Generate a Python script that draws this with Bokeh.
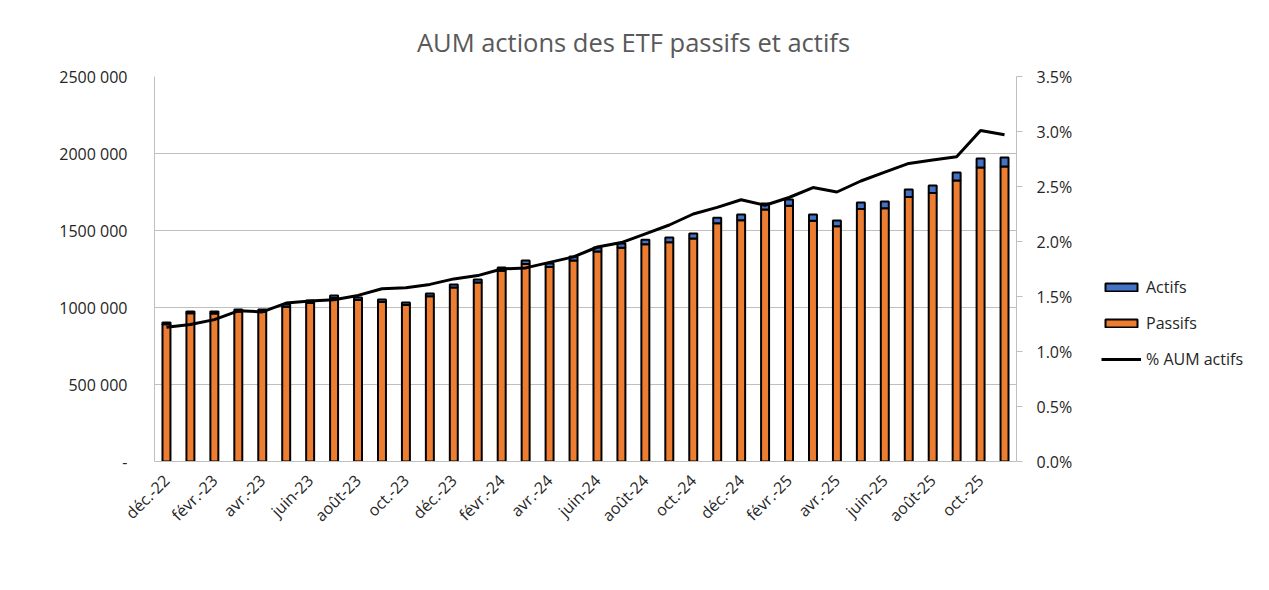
from bokeh.plotting import figure
from bokeh.models import (ColumnDataSource, Range1d, LinearAxis, FixedTicker,
                          PrintfTickFormatter, Legend, LegendItem, Label)
from bokeh.layouts import row, column
from bokeh.embed import file_html
from bokeh.resources import INLINE
from math import pi

months = ["déc.-22", "janv.-23", "févr.-23", "mars-23", "avr.-23", "mai-23", "juin-23", "juil.-23",
          "août-23", "sept.-23", "oct.-23", "nov.-23", "déc.-23", "janv.-24", "févr.-24", "mars-24",
          "avr.-24", "mai-24", "juin-24", "juil.-24", "août-24", "sept.-24", "oct.-24", "nov.-24",
          "déc.-24", "janv.-25", "févr.-25", "mars-25", "avr.-25", "mai-25", "juin-25", "juil.-25",
          "août-25", "sept.-25", "oct.-25", "nov.-25"]

passifs = [892000, 962000, 961000, 974000, 974000, 1004000, 1030000, 1062000,
           1049000, 1036000, 1016000, 1073000, 1130000, 1162000, 1238000, 1282000,
           1263000, 1306000, 1363000, 1388000, 1410000, 1424000, 1448000, 1547000,
           1566000, 1636000, 1660000, 1564000, 1527000, 1639000, 1644000, 1718000,
           1743000, 1825000, 1909000, 1915000]

actifs = [11000, 12100, 12600, 13500, 13400, 14700, 15300, 15800,
          16100, 16500, 16300, 17600, 19100, 20000, 22100, 23000,
          23300, 24800, 27100, 28200, 29800, 31300, 33300, 36600,
          38200, 39000, 40800, 39900, 38300, 42900, 44400, 47900,
          49100, 52000, 59200, 58600]

pct_actifs = [1.22, 1.245, 1.29, 1.37, 1.36, 1.44, 1.46, 1.47,
              1.51, 1.57, 1.58, 1.61, 1.66, 1.69, 1.75, 1.76,
              1.81, 1.86, 1.95, 1.99, 2.07, 2.15, 2.25, 2.31,
              2.38, 2.33, 2.40, 2.49, 2.45, 2.55, 2.63, 2.71,
              2.74, 2.77, 3.01, 2.97]

left_ticks = [0, 500000, 1000000, 1500000, 2000000, 2500000]
left_labels = ["-", "500 000", "1000 000", "1500 000", "2000 000", "2500 000"]
right_ticks = [0, 0.5, 1.0, 1.5, 2.0, 2.5, 3.0, 3.5]
title_text = "AUM actions des ETF passifs et actifs"

FONT = "Open Sans"
TXT = "#262626"
GRID = "#bfbfbf"
ORANGE = "#ED7D31"
BLUE = "#4472C4"

TOTAL_W, TOTAL_H = 1253, 574
TITLE_H = 60
W_MAIN = 1085
H_MAIN = TOTAL_H - TITLE_H

idx = list(range(len(months)))
src = ColumnDataSource(dict(x=idx, month=months, Passifs=passifs, Actifs=actifs, pct=pct_actifs))

# ---- title strip ----
tf = figure(width=TOTAL_W, height=TITLE_H, output_backend="svg", toolbar_location=None,
            min_border=0, x_range=Range1d(0, 1), y_range=Range1d(0, 1))
tf.axis.visible = False
tf.grid.grid_line_color = None
tf.outline_line_color = None
tf.add_layout(Label(x=633, y=19, x_units="screen", y_units="screen", text=title_text,
                    text_align="center", text_baseline="alphabetic",
                    text_font=FONT, text_font_size="25.5px", text_color="#595959"))

# ---- main chart ----
p = figure(width=W_MAIN, height=H_MAIN, x_range=Range1d(-0.5, len(months) - 0.5),
           y_range=Range1d(0, 2500000), output_backend="svg", toolbar_location=None,
           min_border_left=154, min_border_right=W_MAIN - 154 - 862,
           min_border_top=76 - TITLE_H, min_border_bottom=113)
p.extra_y_ranges = {"pct": Range1d(0, 3.5)}
p.outline_line_color = None
p.background_fill_color = "white"
p.border_fill_color = "white"

bars = p.vbar_stack(["Passifs", "Actifs"], x="x", width=0.333, source=src,
                    color=[ORANGE, BLUE], line_color="black", line_width=2)
line = p.line(x="x", y="pct", source=src, y_range_name="pct", line_color="black", line_width=3)

# left axis
ya = p.yaxis[0]
ya.ticker = FixedTicker(ticks=left_ticks)
ya.major_label_overrides = {t: l for t, l in zip(left_ticks, left_labels)}
ya.axis_line_color = GRID
ya.major_tick_line_color = None
ya.minor_tick_line_color = None
ya.major_label_standoff = 21
ya.major_label_text_font = FONT
ya.major_label_text_font_size = "16px"
ya.major_label_text_color = TXT

# right axis
ra = LinearAxis(y_range_name="pct", ticker=FixedTicker(ticks=right_ticks),
                formatter=PrintfTickFormatter(format="%.1f%%"))
ra.axis_line_color = GRID
ra.major_tick_line_color = GRID
ra.major_tick_out = 6
ra.major_tick_in = 0
ra.minor_tick_line_color = None
ra.major_label_standoff = 14
ra.major_label_text_font = FONT
ra.major_label_text_font_size = "16px"
ra.major_label_text_color = TXT
p.add_layout(ra, "right")

# x axis
xa = p.xaxis[0]
xa.ticker = FixedTicker(ticks=idx[::2])
xa.major_label_overrides = {i: months[i] for i in idx[::2]}
xa.major_label_orientation = pi / 4
xa.axis_line_color = GRID
xa.major_tick_line_color = None
xa.minor_tick_line_color = None
xa.major_label_standoff = 10
xa.major_label_text_font = FONT
xa.major_label_text_font_size = "16px"
xa.major_label_text_color = TXT

p.xgrid.grid_line_color = None
p.ygrid.grid_line_color = GRID
p.ygrid.ticker = FixedTicker(ticks=left_ticks)

# ---- legend panel: same data, muted (invisible) and outside its visible range,
#      so only the legend entries show ----
lg = figure(width=TOTAL_W - W_MAIN, height=H_MAIN, output_backend="svg", toolbar_location=None,
            min_border=0, x_range=Range1d(1000, 2000), y_range=Range1d(1e7, 2e7))
lg.axis.visible = False
lg.grid.grid_line_color = None
lg.outline_line_color = None
lb = lg.vbar(x="x", top="Actifs", width=0.333, source=src, color=BLUE, line_color="black",
             line_width=2, muted_alpha=0)
lo = lg.vbar(x="x", top="Passifs", width=0.333, source=src, color=ORANGE, line_color="black",
             line_width=2, muted_alpha=0)
ll = lg.line(x="x", y="pct", source=src, line_color="black", line_width=3, muted_alpha=0)
for r in (lb, lo, ll):
    r.muted = True

legend = Legend(items=[LegendItem(label="Actifs", renderers=[lb]),
                       LegendItem(label="Passifs", renderers=[lo]),
                       LegendItem(label="% AUM actifs", renderers=[ll])],
                location=(16, 91), orientation="vertical",
                glyph_width=40, glyph_height=10, label_height=22, spacing=14,
                padding=0, margin=0, label_standoff=5,
                border_line_color=None, background_fill_alpha=0,
                label_text_font=FONT, label_text_font_size="16px", label_text_color=TXT)
lg.add_layout(legend, "center")

layout = column(tf, row(p, lg, spacing=0), spacing=0)
open("out.html", "w").write(file_html(layout, INLINE))
